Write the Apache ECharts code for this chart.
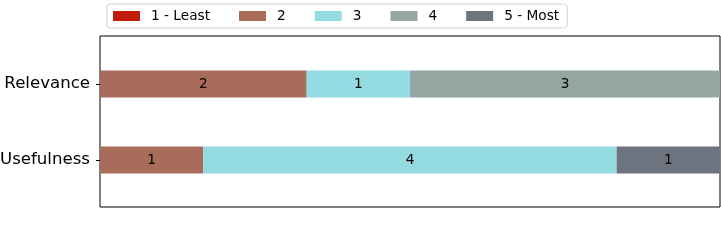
<!DOCTYPE html>
<html><head><meta charset="utf-8">
<script src="https://cdn.jsdelivr.net/npm/echarts@6/dist/echarts.min.js"></script>
<style>html,body{margin:0;padding:0;background:#fff}#c{width:721px;height:240px}</style>
</head><body><div id="c"></div>
<script>
const categories = ['Relevance', 'Usefulness'];
const seriesNames = ['1 - Least', '2', '3', '4', '5 - Most'];
const s1 = [0, 0];
const s2 = [2, 1];
const s3 = [1, 4];
const s4 = [3, 0];
const s5 = [0, 1];
const colors = ['#c01d08', '#aa6c5a', '#93dbe0', '#95a5a2', '#6e7380'];
const allData = [s1, s2, s3, s4, s5];
const font = 'DejaVu Sans';
const chart = echarts.init(document.getElementById('c'), null, {renderer: 'canvas'});
chart.setOption({
  animation: false,
  textStyle: {fontFamily: font},
  legend: {
    data: seriesNames,
    left: 107, top: 4,
    itemWidth: 27, itemHeight: 10, itemGap: 29,
    padding: [5, 8, 5, 6],
    borderColor: '#d0d0d0', borderWidth: 1, borderRadius: 3,
    textStyle: {fontFamily: font, fontSize: 13.7, color: '#000', padding: [0, 0, 0, 6]},
    icon: 'rect'
  },
  grid: [
    {left: 100, right: 1, top: 36, bottom: 33, show: true, borderColor: '#000', borderWidth: 1, backgroundColor: 'transparent', outerBoundsMode: 'none', containLabel: false},
    {left: 100, right: 1, top: 46, height: 152, outerBoundsMode: 'none', containLabel: false}
  ],
  xAxis: [
    {gridIndex: 0, type: 'value', show: false, min: 0, max: 1},
    {gridIndex: 1, type: 'value', min: 0, max: 6, show: false}
  ],
  yAxis: [
    {gridIndex: 0, type: 'value', show: false, min: 0, max: 1},
    {gridIndex: 1, type: 'category', data: categories, inverse: true,
     axisLine: {show: false},
     axisTick: {show: true, alignWithLabel: true, length: 4, lineStyle: {color: '#000'}},
     axisLabel: {fontFamily: font, fontSize: 16.6, color: '#000', margin: 10, padding: [3, 0, 0, 0]}}
  ],
  series: seriesNames.map((n, i) => ({
    name: n, type: 'bar', stack: 'total', xAxisIndex: 1, yAxisIndex: 1,
    barWidth: 27,
    itemStyle: {color: colors[i]},
    label: {show: true, position: 'inside', color: '#000', fontFamily: font, fontSize: 13.7,
      formatter: p => p.value ? String(p.value) : ''},
    data: allData[i]
  }))
});
</script></body></html>
